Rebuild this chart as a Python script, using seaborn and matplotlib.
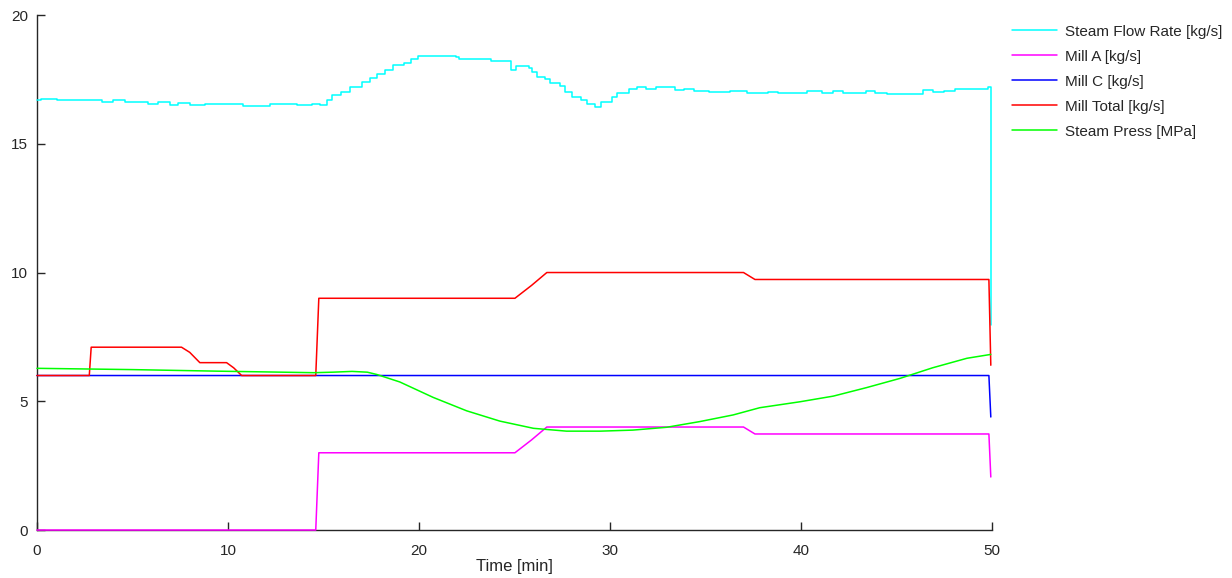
import numpy as np
import pandas as pd
import matplotlib
matplotlib.use("Agg")
import matplotlib.pyplot as plt
import seaborn as sns

# --- datos ---
steam_t = [0, 0.2, 1.05, 3.39, 4.0, 4.6, 5.8, 6.35, 6.96, 7.4, 8.0, 8.8, 9.4, 10.8,
           12.2, 13.1, 13.6, 14.4, 14.8, 15.2, 15.45, 15.93, 16.37, 17.03, 17.45,
           17.8, 18.23, 18.64, 19.2, 19.6, 19.98, 21.95, 22.1, 23.8, 24.8, 25.1,
           25.75, 25.9, 26.2, 26.6, 26.85, 27.4, 27.65, 28.0, 28.5, 28.8, 29.2,
           29.55, 30.1, 30.4, 31.0, 31.4, 31.9, 32.4, 33.4, 33.9, 34.4, 35.2, 36.3,
           37.2, 38.3, 38.8, 40.3, 41.1, 41.7, 42.2, 43.4, 43.9, 44.5, 46.4, 46.9,
           47.5, 48.1, 49.8, 49.95]
steam_flow = [16.70, 16.75, 16.70, 16.63, 16.70, 16.63, 16.56, 16.61, 16.50, 16.60,
              16.50, 16.56, 16.55, 16.48, 16.53, 16.55, 16.50, 16.56, 16.50, 16.70,
              16.89, 17.00, 17.22, 17.39, 17.54, 17.72, 17.86, 18.05, 18.15, 18.28,
              18.41, 18.37, 18.31, 18.21, 17.86, 18.03, 17.93, 17.80, 17.60, 17.50,
              17.35, 17.24, 17.02, 16.83, 16.70, 16.54, 16.44, 16.61, 16.80, 16.98,
              17.11, 17.22, 17.14, 17.19, 17.07, 17.14, 17.05, 17.02, 17.05, 16.98,
              17.03, 16.98, 17.04, 16.99, 17.06, 16.99, 17.05, 16.96, 16.93, 17.08,
              17.00, 17.05, 17.13, 17.22, 7.96]

mill_t = [0, 2.74, 2.84, 7.57, 8.0, 8.53, 9.93, 10.3, 10.72, 14.6, 14.76, 25.03,
          25.9, 26.7, 37.0, 37.6, 49.85, 49.95]
mill_total = [6.0, 6.0, 7.1, 7.1, 6.9, 6.5, 6.5, 6.3, 6.0, 6.0, 9.0, 9.0, 9.5,
              10.0, 10.0, 9.73, 9.73, 6.4]

mill_a_t = [0, 14.6, 14.76, 25.03, 25.9, 26.7, 37.0, 37.6, 49.85, 49.95]
mill_a = [0, 0, 3.0, 3.0, 3.5, 4.0, 4.0, 3.73, 3.73, 2.06]

mill_c_t = [0, 49.85, 49.95]
mill_c = [6.0, 6.0, 4.39]

press_t = [0, 5.0, 9.4, 12.0, 14.5, 15.5, 16.5, 17.3, 17.8, 19.0, 20.75, 22.5,
           24.24, 26.0, 27.73, 29.5, 31.2, 32.97, 34.7, 36.46, 37.85, 39.95, 41.7,
           43.44, 45.2, 46.9, 48.7, 49.95]
steam_press = [6.28, 6.23, 6.17, 6.14, 6.11, 6.13, 6.16, 6.13, 6.04, 5.75, 5.15,
               4.63, 4.23, 3.95, 3.84, 3.84, 3.88, 3.99, 4.21, 4.47, 4.75, 4.98,
               5.20, 5.53, 5.89, 6.30, 6.67, 6.82]

x_ticks = [0, 10, 20, 30, 40, 50]
y_ticks = [0, 5, 10, 15, 20]

sns.set_theme(style="ticks")
plt.rcParams['font.family'] = ['Liberation Sans', 'DejaVu Sans']
plt.rcParams['xtick.direction'] = 'in'
plt.rcParams['ytick.direction'] = 'in'

fig = plt.figure(figsize=(12.32, 5.78), dpi=100)
ax = fig.add_axes([0.030, 0.083, 0.775, 0.891])

series = [
    ("Steam Flow Rate [kg/s]", steam_t, steam_flow, "#00ffff", "steps-post"),
    ("Mill A [kg/s]", mill_a_t, mill_a, "#ff00ff", "default"),
    ("Mill C [kg/s]", mill_c_t, mill_c, "#0000ff", "default"),
    ("Mill Total [kg/s]", mill_t, mill_total, "#ff0000", "default"),
    ("Steam Press [MPa]", press_t, steam_press, "#00ff00", "default"),
]
for label, t, v, col, ds in series:
    df = pd.DataFrame({"t": t, "v": v})
    # zorder alto para que Mill A en 0 se vea sobre el eje
    sns.lineplot(data=df, x="t", y="v", ax=ax, color=col, lw=1.1, label=label,
                 estimator=None, sort=False, drawstyle=ds, zorder=3, clip_on=False)

ax.set_xlim(0, 50)
ax.set_ylim(0, 20)
ax.set_xticks(x_ticks)
ax.set_yticks(y_ticks)
ax.set_xlabel("Time [min]", fontsize=12, color="#262626", labelpad=1)
ax.set_ylabel("")
ax.tick_params(labelsize=11, colors="#262626", length=6, width=1)
ax.tick_params(axis="x", pad=10)
ax.tick_params(axis="y", pad=6.5)
sns.despine(ax=ax)
for s in ["left", "bottom"]:
    ax.spines[s].set_color("#262626")
    ax.spines[s].set_linewidth(1)

ax.get_legend().remove()
h, l = ax.get_legend_handles_labels()
fig.legend(h, l, loc="upper left", bbox_to_anchor=(0.810, 0.981), frameon=False,
           fontsize=11, handlelength=2.95, handletextpad=0.52, labelspacing=0.72)

plt.savefig("out.png", dpi=100)
